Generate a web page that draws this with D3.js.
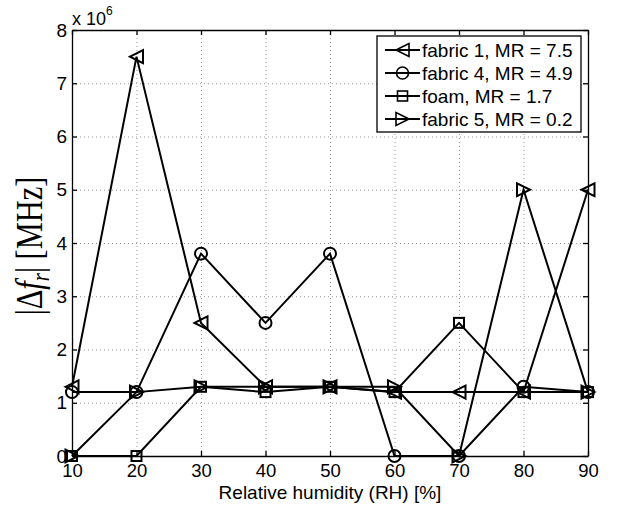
<!DOCTYPE html>
<html>
<head>
<meta charset="utf-8">
<script src="https://cdn.jsdelivr.net/npm/d3@7"></script>
<style>
body { margin: 0; background: #fff; }
svg text { font-family: "Liberation Sans", Arial, sans-serif; fill: #000; }
.grid line { stroke: #999; stroke-dasharray: 1 3; stroke-width: 1; }
.grid path { display: none; }
.ax path, .ax line { stroke: #000; stroke-width: 1.3; }
</style>
</head>
<body>
<script>
////////////////
// Data
////////////////
var rh = [10, 20, 30, 40, 50, 60, 70, 80, 90]
var xTicks = [10, 20, 30, 40, 50, 60, 70, 80, 90]
var yTicks = [0, 1, 2, 3, 4, 5, 6, 7, 8]   // x 10^6

var fabric1 = [1.3, 7.5, 2.5, 1.3, 1.3, 1.2, 1.2, 1.2, 5.0]
var fabric4 = [1.2, 1.2, 3.8, 2.5, 3.8, 0, 0, 1.3, 1.2]
var foam    = [0, 0, 1.3, 1.2, 1.3, 1.2, 2.5, 1.2, 1.2]
var fabric5 = [0, 1.2, 1.3, 1.3, 1.3, 1.3, 0, 5.0, 1.2]

var seriesNames = ['fabric 1, MR = 7.5', 'fabric 4, MR = 4.9', 'foam, MR = 1.7', 'fabric 5, MR = 0.2']
var seriesMarks = ['left', 'circle', 'square', 'right']
var seriesVals = [fabric1, fabric4, foam, fabric5]

////////////////
// Chart
////////////////
var W = 617, H = 508
var m = {left: 72, right: 29, top: 30, bottom: 52}
var w = W - m.left - m.right
var h = H - m.top - m.bottom

var svg = d3.select('body').append('svg')
  .attr('width', W)
  .attr('height', H)

var x = d3.scaleLinear().domain([10, 90]).range([0, w])
var y = d3.scaleLinear().domain([0, 8e6]).range([h, 0])

var g = svg.append('g').attr('transform', `translate(${m.left},${m.top})`)

// grid
g.append('g').attr('class', 'grid')
  .call(d3.axisBottom(x).tickValues(xTicks.slice(1, -1)).tickSize(h).tickFormat(''))
g.append('g').attr('class', 'grid')
  .call(d3.axisLeft(y).tickValues(yTicks.slice(1, -1).map(d => d * 1e6)).tickSize(-w).tickFormat(''))

// axes, ticks inward on every side
var fs = 19
g.append('g').attr('class', 'ax xb')
  .attr('transform', `translate(0,${h})`)
  .call(d3.axisBottom(x).tickValues(xTicks).tickSizeInner(-5).tickSizeOuter(0).tickPadding(8))
g.append('g').attr('class', 'ax')
  .call(d3.axisTop(x).tickValues(xTicks).tickSizeInner(-5).tickSizeOuter(0).tickFormat(''))
g.append('g').attr('class', 'ax')
  .call(d3.axisLeft(y).tickValues(yTicks.map(d => d * 1e6)).tickSizeInner(-5).tickSizeOuter(0).tickPadding(5)
    .tickFormat(d => d / 1e6))
g.append('g').attr('class', 'ax')
  .attr('transform', `translate(${w},0)`)
  .call(d3.axisRight(y).tickValues(yTicks.map(d => d * 1e6)).tickSizeInner(-5).tickSizeOuter(0).tickFormat(''))

g.selectAll('.ax text').attr('font-size', fs).attr('font-family', '"Liberation Sans", Arial, sans-serif')
g.selectAll('.xb text').attr('font-size', 18.5)

// exponent note
var ex = svg.append('text').attr('x', m.left).attr('y', 25).attr('font-size', 18)
ex.append('tspan').text('x 10')
ex.append('tspan').attr('dy', -10).attr('font-size', 12).text('6')

// axis labels
svg.append('text')
  .attr('x', m.left + w / 2)
  .attr('y', 499)
  .attr('text-anchor', 'middle')
  .attr('font-size', 19)
  .text('Relative humidity (RH) [%]')

var yl = svg.append('text')
  .attr('transform', 'translate(42,246) rotate(-90) scale(0.8,1)')
  .attr('text-anchor', 'middle')
  .style('font-family', '"Liberation Serif", "DejaVu Serif", serif')
  .attr('font-size', 38)
yl.append('tspan').attr('font-style', 'normal').text('|Δ')
yl.append('tspan').attr('font-style', 'italic').text('f')
yl.append('tspan').attr('font-style', 'italic').attr('font-size', 26).attr('dy', 7).text('r')
yl.append('tspan').attr('font-style', 'normal').attr('dy', -7).text('| [MHz]')

// markers
function marker(sel, type) {
  var s = 6.5
  if (type == 'circle') {
    sel.append('circle').attr('r', 6)
  } else if (type == 'square') {
    sel.append('rect').attr('x', -5).attr('y', -5).attr('width', 10).attr('height', 10)
  } else if (type == 'left') {
    sel.append('path').attr('d', `M${-s},0L${s},${-s}L${s},${s}Z`)
  } else {
    sel.append('path').attr('d', `M${s},0L${-s},${-s}L${-s},${s}Z`)
  }
}

var line = d3.line()
  .x((d, i) => x(rh[i]))
  .y(d => y(d * 1e6))

seriesVals.forEach(function(vals, k) {
  g.append('path')
    .datum(vals)
    .attr('d', line)
    .attr('fill', 'none')
    .attr('stroke', '#000')
    .attr('stroke-width', 2)
  g.selectAll('g.mk' + k)
    .data(vals)
    .enter()
    .append('g')
    .attr('class', 'mk' + k)
    .attr('transform', (d, i) => `translate(${x(rh[i])},${y(d * 1e6)})`)
    .attr('fill', 'none')
    .attr('stroke', '#000')
    .attr('stroke-width', 2)
    .each(function() { marker(d3.select(this), seriesMarks[k]) })
})

// legend
var lg = svg.append('g').attr('transform', 'translate(377,36)')
lg.append('rect')
  .attr('width', 204)
  .attr('height', 96)
  .attr('fill', '#fff')
  .attr('stroke', '#000')
  .attr('stroke-width', 1.3)

var rows = lg.selectAll('g.row')
  .data(seriesNames)
  .enter()
  .append('g')
  .attr('class', 'row')
  .attr('transform', (d, i) => `translate(0,${14 + i * 23})`)

rows.append('line')
  .attr('x1', 8).attr('x2', 43)
  .attr('stroke', '#000').attr('stroke-width', 2)
rows.append('g')
  .attr('transform', 'translate(25.5,0)')
  .attr('fill', 'none').attr('stroke', '#000').attr('stroke-width', 1.6)
  .each(function(d, i) { marker(d3.select(this), seriesMarks[i]) })
rows.append('text')
  .attr('x', 45)
  .attr('dy', '0.36em')
  .attr('font-size', fs)
  .text(d => d)
</script>
</body>
</html>
